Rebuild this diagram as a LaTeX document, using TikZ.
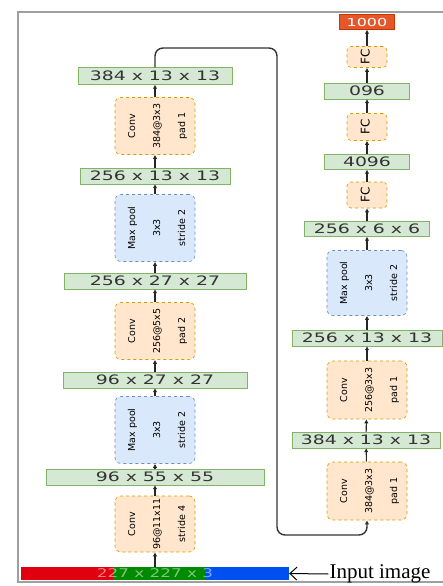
\documentclass[tikz,border=0pt]{standalone}
\usepackage{fontspec}
\setmainfont{Liberation Serif}
\setsansfont{DejaVu Sans}
\usepackage{graphicx}
\usetikzlibrary{arrows.meta}

\definecolor{sizefill}{HTML}{D5E8D4}
\definecolor{sizedraw}{HTML}{82B366}
\definecolor{convfill}{HTML}{FFE6CC}
\definecolor{convdraw}{HTML}{D79B00}
\definecolor{poolfill}{HTML}{DAE8FC}
\definecolor{pooldraw}{HTML}{6C8EBF}
\definecolor{outfill}{HTML}{E4572A}
\definecolor{outdraw}{HTML}{C73500}
\definecolor{barred}{HTML}{E00010}
\definecolor{bargreen}{HTML}{008A00}
\definecolor{barblue}{HTML}{0050EF}

\newcommand{\wide}[1]{\scalebox{1.45}[1]{#1}}
\newcommand{\vlines}[1]{\rotatebox{90}{\begin{tabular}{@{}c@{}}#1\end{tabular}}}

\begin{document}
\begin{tikzpicture}[x=1pt, y=-1pt,
  size/.style={draw=sizedraw, fill=sizefill, text=black!80, inner sep=0pt,
    minimum height=16pt, font=\sffamily\fontsize{13}{13}\selectfont},
  layer/.style={rounded corners=6pt, dashed, line width=0.6pt, inner sep=0pt,
    minimum width=80pt, font=\sffamily\fontsize{9.5}{25}\selectfont},
  convbox/.style={layer, draw=convdraw, fill=convfill},
  poolbox/.style={layer, draw=pooldraw, fill=poolfill, minimum height=67pt},
  fcbox/.style={convbox, minimum width=40pt, rounded corners=4pt, font=\sffamily\fontsize{12}{12}\selectfont},
  flow/.style={-{Latex[length=4pt, width=4.5pt]}, line width=1.1pt, black!85},
  skip/.style={-{Latex[length=4pt, width=4.5pt]}, line width=1.4pt, black!80, rounded corners=8pt}]
\useasboundingbox (0,0) rectangle (443,586);

% frame
\draw[gray!75, line width=2pt] (460,12) -- (18,12) -- (18,582) -- (460,582);

% input image
\fill[barred] (21,567) rectangle (113,580);
\fill[bargreen] (113,567) rectangle (205,580);
\fill[barblue] (205,567) rectangle (289,580);
\node[inner sep=0pt, minimum width=268pt, minimum height=13pt, text=white, text opacity=0.5,
  font=\sffamily\fontsize{12}{12}\selectfont] (img) at (155,573.5) {\scalebox{1.4}[1]{227 x 227 x 3}};
\node[font=\fontsize{21}{21}\selectfont, inner sep=1pt] (imglabel) at (380,574) {Input image};
\draw[-{Straight Barb[length=7pt, width=13pt]}, line width=1pt] (imglabel.west) -- (img.east);

% left column
\node[convbox, minimum height=56pt] (conv1) at (155,524) {\vlines{Conv\\96@11x11\\stride 4}};
\node[size, minimum width=218pt] (s96a) at (155,477) {\wide{96 x 55 x 55}};
\node[poolbox] (pool1) at (155,430) {\vlines{Max pool\\3x3\\stride 2}};
\node[size, minimum width=184pt] (s96b) at (155,380) {\wide{96 x 27 x 27}};
\node[convbox, minimum height=57pt] (conv2) at (155,331) {\vlines{Conv\\256@5x5\\pad 2}};
\node[size, minimum width=182pt] (s256a) at (155,281) {\wide{256 x 27 x 27}};
\node[poolbox] (pool2) at (155,228) {\vlines{Max pool\\3x3\\stride 2}};
\node[size, minimum width=150pt] (s256b) at (155,176) {\wide{256 x 13 x 13}};
\node[convbox, minimum height=57pt] (conv3) at (155,126) {\vlines{Conv\\384@3x3\\pad 1}};
\node[size, minimum width=154pt, minimum height=17pt] (s384a) at (155,76) {\wide{384 x 13 x 13}};

% right column
\node[convbox, minimum height=58pt] (conv4) at (367,491) {\vlines{Conv\\384@3x3\\pad 1}};
\node[size, minimum width=148pt] (s384b) at (366,440) {\wide{384 x 13 x 13}};
\node[convbox, minimum height=58pt] (conv5) at (367,390) {\vlines{Conv\\256@3x3\\pad 1}};
\node[size, minimum width=150pt] (s256c) at (367,338) {\wide{256 x 13 x 13}};
\node[poolbox, minimum height=65pt] (pool3) at (367,283) {\vlines{Max pool\\3x3\\stride 2}};
\node[size, minimum width=125pt, minimum height=15pt] (s256d) at (367,229) {\wide{256 x 6 x 6}};
\node[fcbox, minimum height=26pt] (fc1) at (367,195) {\vlines{FC}};
\node[size, minimum width=85pt, minimum height=15pt] (s4096a) at (367,162) {\wide{4096}};
\node[fcbox, minimum height=27pt] (fc2) at (367,127) {\vlines{FC}};
\node[size, minimum width=85pt] (s4096b) at (367,91) {\wide{096}};
\node[fcbox, minimum height=21pt] (fc3) at (367,57) {\vlines{FC}};
\node[size, draw=outdraw, fill=outfill, text=white, minimum width=55pt, minimum height=15pt,
  font=\sffamily\fontsize{11}{11}\selectfont] (out) at (367,22) {\wide{1000}};

% connectors
\foreach \a/\b in {conv1/s96a, s96a/pool1, pool1/s96b, s96b/conv2, conv2/s256a,
  s256a/pool2, pool2/s256b, s256b/conv3, conv3/s384a,
  conv4/s384b, s384b/conv5, conv5/s256c, s256c/pool3, pool3/s256d,
  s256d/fc1, fc1/s4096a, s4096a/fc2, fc2/s4096b, s4096b/fc3, fc3/out}
  \draw[flow] (\a) -- (\b);
\draw[flow] (conv1.south |- img.north) -- (conv1.south);

\coordinate (turnA) at (277,48);
\coordinate (turnB) at (277,535);
\draw[skip] (s384a) |- (turnA) -- (turnB) -| (conv4);
\end{tikzpicture}
\end{document}
